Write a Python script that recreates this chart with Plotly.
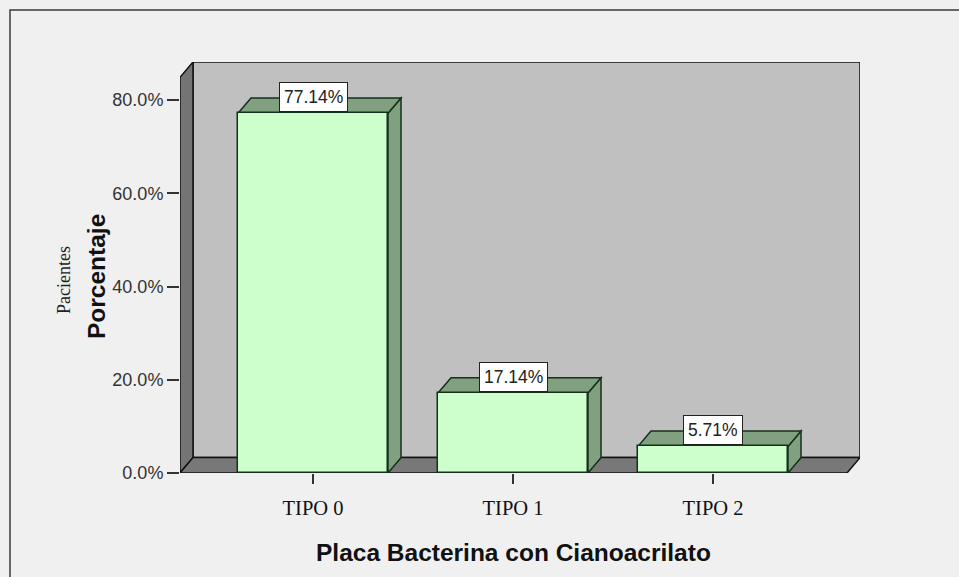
import plotly.graph_objects as go

# ---- data ----
categories = ["TIPO 0", "TIPO 1", "TIPO 2"]
percentages = [77.14, 17.14, 5.71]
y_ticks = [0, 20, 40, 60, 80]
y_tick_labels = ["0.0%", "20.0%", "40.0%", "60.0%", "80.0%"]
x_title = "Placa Bacterina con Cianoacrilato"
y_title = "Porcentaje"
y_subtitle = "Pacientes"

# ---- layout geometry ----
W, H = 959, 577
L, R, T, B = 180, 99, 62, 104
PW, PH = W - L - R, H - T - B
X0, X1 = -0.665, 2.735      # category-axis range (front-left .. back-right)
YTOP = 88.15                # value-axis range top (back wall top)
DX, DY = 0.065, 3.3         # 3D depth offset in data units
BW = 0.75                   # bar width

def px2x(px):
    return (px - L) / PW

def py2y(py):
    return (H - B - py) / PH

BG = "#f0f0f0"
WALL = "#c0c0c0"
SIDE = "#747474"
FLOOR = "#787878"
FRONT = "#ccffcc"
GREEN_FACE = "#80a080"
EDGE = "#111111"
BAR_EDGE = "#14301a"

fig = go.Figure()
fig.add_trace(go.Bar(
    x=list(range(len(categories))), y=percentages, width=BW,
    marker=dict(color=FRONT, line=dict(color=BAR_EDGE, width=1.5)),
    hoverinfo="skip", showlegend=False,
))

shapes = []
# back wall
shapes.append(dict(type="rect", xref="x", yref="y", x0=X0 + DX, y0=DY, x1=X1, y1=YTOP,
                   fillcolor=WALL, line=dict(color=EDGE, width=1.5), layer="below"))
# left wall
shapes.append(dict(type="path", xref="x", yref="y",
                   path=f"M {X0},0 L {X0},{YTOP - DY} L {X0 + DX},{YTOP} L {X0 + DX},{DY} Z",
                   fillcolor=SIDE, line=dict(color=EDGE, width=1.5), layer="below"))
# floor
shapes.append(dict(type="path", xref="x", yref="y",
                   path=f"M {X0},0 L {X0 + DX},{DY} L {X1},{DY} L {X1 - DX},0 Z",
                   fillcolor=FLOOR, line=dict(color=EDGE, width=1.5), layer="below"))

# bar side and top faces
for i, v in enumerate(percentages):
    xl, xr = i - BW / 2, i + BW / 2
    shapes.append(dict(type="path", xref="x", yref="y",
                       path=f"M {xr},0 L {xr + DX},{DY} L {xr + DX},{v + DY} L {xr},{v} Z",
                       fillcolor=GREEN_FACE, line=dict(color=BAR_EDGE, width=1.5), layer="below"))
    shapes.append(dict(type="path", xref="x", yref="y",
                       path=f"M {xl},{v} L {xl + DX},{v + DY} L {xr + DX},{v + DY} L {xr},{v} Z",
                       fillcolor=GREEN_FACE, line=dict(color=BAR_EDGE, width=1.5), layer="below"))

# outer frame (top and left edges)
shapes.append(dict(type="path", xref="paper", yref="paper",
                   path=f"M {px2x(10)},{py2y(H + 5)} L {px2x(10)},{py2y(10)} L {px2x(W + 5)},{py2y(10)}",
                   line=dict(color="#3a3a3a", width=1.5)))

annotations = []
for i, v in enumerate(percentages):
    annotations.append(dict(
        x=i, y=v, xref="x", yref="y", xanchor="center", yanchor="bottom",
        text=f"{v:.2f}%", showarrow=False, yshift=1,
        bgcolor="white", bordercolor="#222222", borderwidth=1, borderpad=4,
        font=dict(family="Arial, Liberation Sans", size=17.5, color="#222222"),
    ))

annotations.append(dict(
    x=px2x(96), y=py2y(277), xref="paper", yref="paper", text=f"<b>{y_title}</b>",
    textangle=-90, showarrow=False, xanchor="center", yanchor="middle",
    font=dict(family="Arial, Liberation Sans", size=24.5, color="#111111"),
))
annotations.append(dict(
    x=px2x(64), y=py2y(280), xref="paper", yref="paper", text=y_subtitle,
    textangle=-90, showarrow=False, xanchor="center", yanchor="middle",
    font=dict(family="Liberation Serif, Times New Roman", size=18, color="#222222"),
))
annotations.append(dict(
    x=px2x(513), y=py2y(552), xref="paper", yref="paper", text=f"<b>{x_title}</b>",
    showarrow=False, xanchor="center", yanchor="middle",
    font=dict(family="Arial, Liberation Sans", size=24.5, color="#111111"),
))

fig.update_layout(
    width=W, height=H,
    margin=dict(l=L, r=R, t=T, b=B, autoexpand=False),
    paper_bgcolor=BG, plot_bgcolor=BG,
    shapes=shapes, annotations=annotations,
    showlegend=False, bargap=0,
    xaxis=dict(
        range=[X0, X1], tickmode="array", tickvals=list(range(len(categories))),
        ticktext=categories, ticks="outside", ticklen=10, tickwidth=1.5, tickcolor="#333333",
        showgrid=False, zeroline=False, showline=False, ticklabelstandoff=6,
        tickfont=dict(family="Liberation Serif, Times New Roman", size=20.5, color="#111111"),
        fixedrange=True,
    ),
    yaxis=dict(
        range=[0, YTOP], tickmode="array", tickvals=y_ticks, ticktext=y_tick_labels,
        ticks="outside", ticklen=12, tickwidth=1.5,
        tickcolor="#333333", showgrid=False, zeroline=False, showline=False,
        tickfont=dict(family="Arial, Liberation Sans", size=18, color="#333333"),
        fixedrange=True,
    ),
)

fig.write_html(
    "out.html",
    config={"displayModeBar": False},
    post_script="document.body.style.margin='0';document.body.style.overflow='hidden';",
)
